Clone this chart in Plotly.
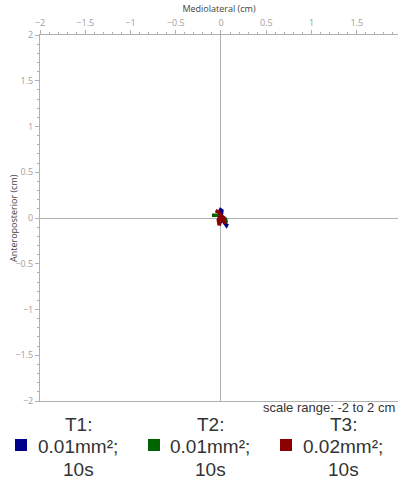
import plotly.graph_objects as go

# Sway traces (cm)
t1_x = [0.00, -0.02, 0.01, 0.00, 0.03, 0.06, 0.07]
t1_y = [0.09, 0.10, 0.08, 0.00, -0.04, -0.08, -0.06]
t2_x = [-0.10, -0.04, 0.00, 0.05, 0.06, 0.03]
t2_y = [0.03, 0.03, 0.01, -0.01, -0.05, -0.03]
t3_x = [-0.06, -0.02, 0.00, -0.03, -0.02, 0.00, 0.04, 0.02, 0.05]
t3_y = [0.08, 0.06, 0.03, -0.02, -0.08, -0.02, 0.02, -0.01, -0.06]

series_names = ["T1", "T2", "T3"]
series_areas = ["0.01mm²", "0.01mm²", "0.02mm²"]
series_times = ["10s", "10s", "10s"]
colors = ["#00008B", "#006400", "#8B0000"]

W, H = 398, 479
L, T, B = 40, 35, 78
PW, PH = W - L, H - T - B


def px_x(px):
    return (px - L) / PW


def px_y(py):
    return (H - B - py) / PH


fig = go.Figure()
for xs, ys, c in [(t1_x, t1_y, colors[0]), (t2_x, t2_y, colors[1]), (t3_x, t3_y, colors[2])]:
    fig.add_trace(go.Scatter(x=xs, y=ys, mode="lines", line=dict(color=c, width=3.5),
                             showlegend=False, hoverinfo="skip"))

tickfont = dict(family="Open Sans, Noto Sans, sans-serif", size=9, color="#a0a0a0")
fig.update_layout(
    width=W, height=H,
    margin=dict(l=L, r=0, t=T, b=B, autoexpand=False),
    paper_bgcolor="white", plot_bgcolor="white",
    font=dict(family="Open Sans, Noto Sans, sans-serif", color="#444444"),
    xaxis=dict(range=[-2, 1.956], side="top", dtick=0.5, tick0=0,
               showgrid=False, zeroline=True, zerolinecolor="#b0b0b0", zerolinewidth=1,
               showline=True, linecolor="#b0b0b0", linewidth=1, mirror=True,
               ticks="outside", ticklen=4, tickcolor="#b0b0b0", tickfont=tickfont,
               minor=dict(dtick=0.1, ticks="outside", ticklen=2, tickcolor="#b0b0b0", showgrid=False),
               title=dict(text="Mediolateral (cm)", font=dict(size=9, color="#444444"), standoff=2)),
    yaxis=dict(range=[-2, 2], dtick=0.5, tick0=0,
               showgrid=False, zeroline=True, zerolinecolor="#b0b0b0", zerolinewidth=1,
               showline=True, linecolor="#b0b0b0", linewidth=1,
               ticks="outside", ticklen=4, tickcolor="#b0b0b0", tickfont=tickfont,
               minor=dict(dtick=0.1, ticks="outside", ticklen=2, tickcolor="#b0b0b0", showgrid=False)),
)

fig.add_annotation(text="Anteroposterior (cm)", xref="paper", yref="paper",
                   x=px_x(13), y=0.5, xanchor="center", yanchor="middle", textangle=-90,
                   showarrow=False, borderpad=0,
                   font=dict(family="Open Sans, Noto Sans, sans-serif", size=9, color="#444444"))

fig.add_annotation(text="scale range: -2 to 2 cm", xref="paper", yref="paper",
                   x=px_x(396), y=px_y(408), xanchor="right", yanchor="middle", showarrow=False,
                   borderpad=0,
                   font=dict(family="Liberation Sans, Arial, sans-serif", size=13, color="#333333"))

text_centers = [78, 210, 343]
square_left = [15, 148, 280]
line_centers = [424, 446, 470]
lfont = dict(family="Liberation Sans, Arial, sans-serif", size=19, color="#333333")
for i in range(3):
    lines = [f"{series_names[i]}:", f"{series_areas[i]};", series_times[i]]
    for txt, cy in zip(lines, line_centers):
        fig.add_annotation(text=txt, xref="paper", yref="paper",
                           x=px_x(text_centers[i]), y=px_y(cy),
                           xanchor="center", yanchor="middle", showarrow=False, borderpad=0,
                           font=lfont)
    fig.add_shape(type="rect", xref="paper", yref="paper",
                  x0=px_x(square_left[i]), x1=px_x(square_left[i] + 12),
                  y0=px_y(439), y1=px_y(451),
                  fillcolor=colors[i], line=dict(width=0))

fig.write_html("out.html", config={"displayModeBar": False},
               post_script="document.body.style.margin='0';document.body.style.overflow='hidden';")
